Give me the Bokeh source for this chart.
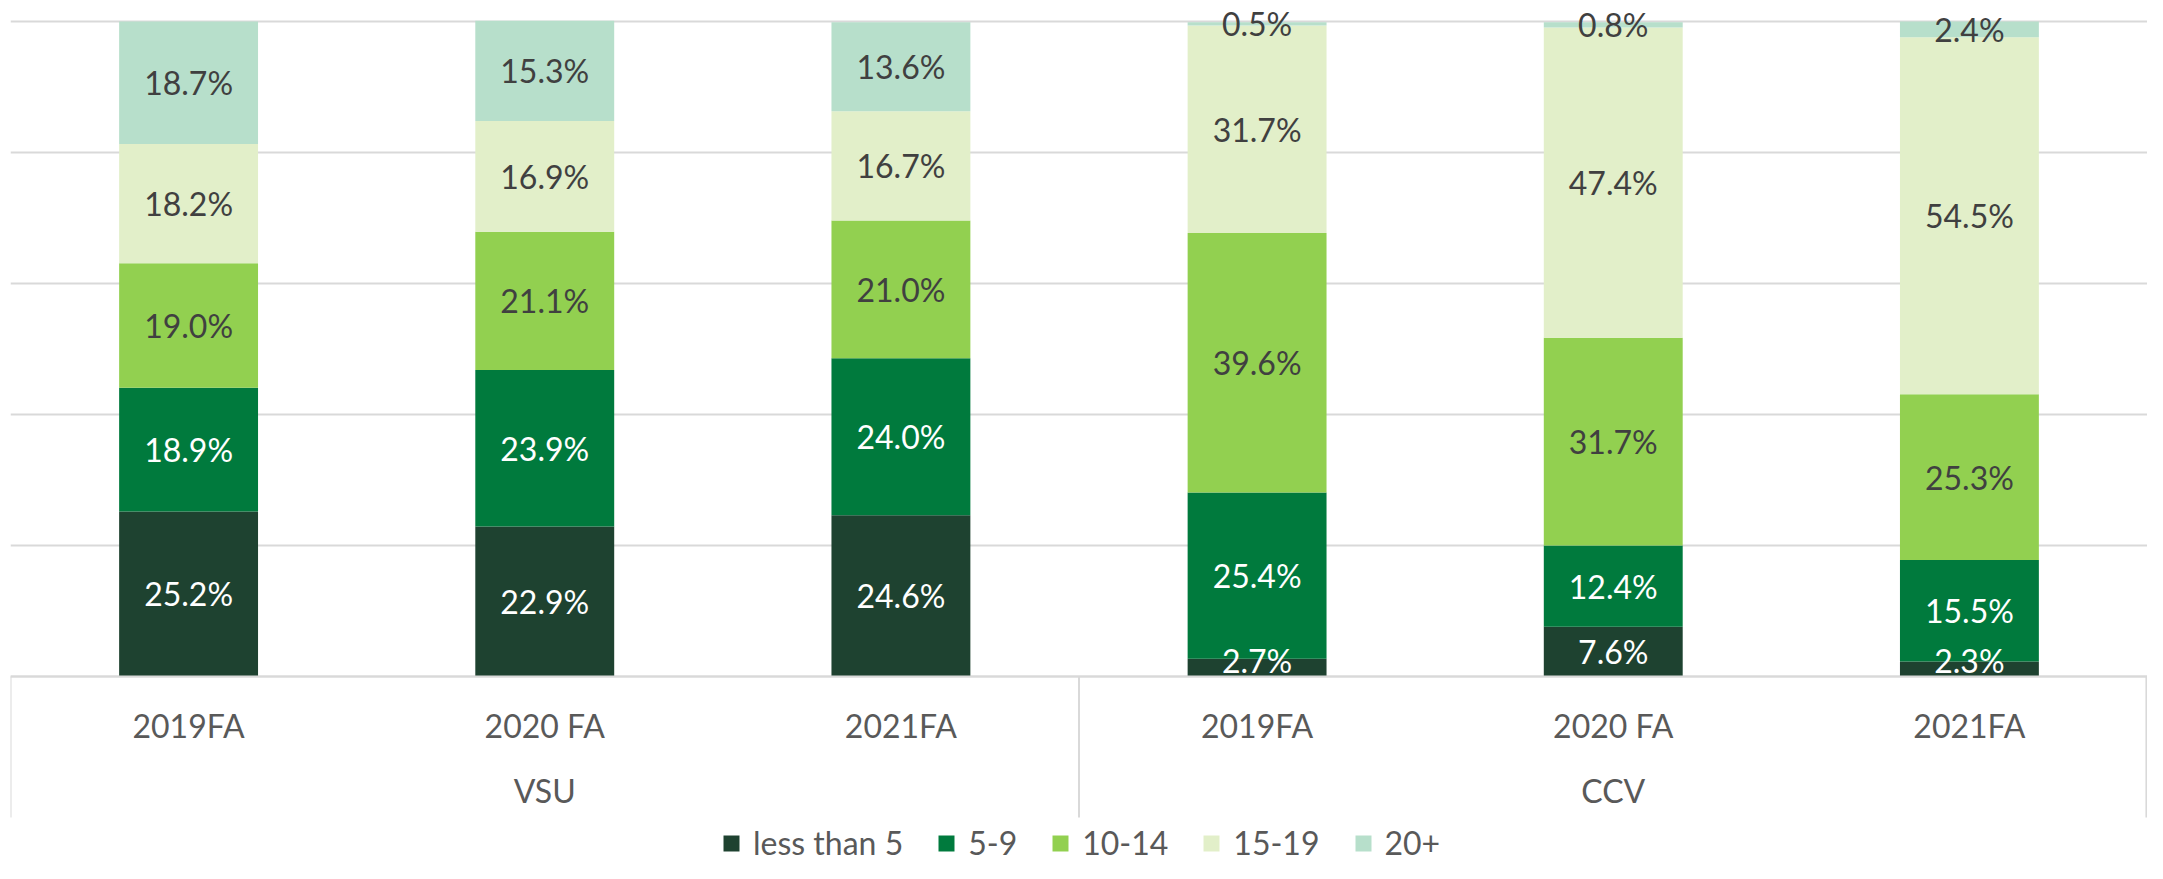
from bokeh.plotting import figure
from bokeh.models import ColumnDataSource, FactorRange, FixedTicker, Legend, LegendItem
from bokeh.embed import file_html
from bokeh.resources import INLINE
from bokeh.core.properties import value

# ---- data ----
groups = ["VSU", "VSU", "VSU", "CCV", "CCV", "CCV"]
periods = ["2019FA", "2020 FA", "2021FA", "2019FA", "2020 FA", "2021FA"]
series = ["less than 5", "5-9", "10-14", "15-19", "20+"]
less_than_5 = [25.2, 22.9, 24.6, 2.7, 7.6, 2.3]
v5_9 = [18.9, 23.9, 24.0, 25.4, 12.4, 15.5]
v10_14 = [19.0, 21.1, 21.0, 39.6, 31.7, 25.3]
v15_19 = [18.2, 16.9, 16.7, 31.7, 47.4, 54.5]
v20_plus = [18.7, 15.3, 13.6, 0.5, 0.8, 2.4]

colors = ["#1E4230", "#007A3D", "#92D050", "#E2EFC9", "#B7DFCB"]
label_colors = ["#FFFFFF", "#FFFFFF", "#404040", "#404040", "#404040"]
FONT = "Lato"
GRID = "#D9D9D9"

factors = list(zip(groups, periods))
values = [less_than_5, v5_9, v10_14, v15_19, v20_plus]

# layout: 655 px for 0..100 %, 21 px head-room above, rest below the baseline
W, H = 2147, 863
PX = 6.55
TOP_PAD = 21
y_end = 100 + TOP_PAD / PX
y_start = -(H - TOP_PAD - 655) / PX
box_bottom = -141 / PX
min_label_y = 16 / PX  # keep bottom labels inside the plot area

p = figure(width=W, height=H, output_backend="svg", toolbar_location=None,
           x_range=FactorRange(factors=factors, group_padding=0, factor_padding=0, range_padding=0),
           y_range=(y_start, y_end))
p.min_border_left = 10
p.min_border_right = 0
p.min_border_top = 0
p.min_border_bottom = 0
p.outline_line_color = None
p.background_fill_color = "white"
p.border_fill_color = "white"

# bars first
bottoms = [0.0] * len(factors)
items = []
label_sources = []
for name, vals, col, lcol in zip(series, values, colors, label_colors):
    tops = [b + v for b, v in zip(bottoms, vals)]
    src = ColumnDataSource(dict(x=factors, bottom=bottoms, top=tops,
                                mid=[max((b + t) / 2, min_label_y) for b, t in zip(bottoms, tops)],
                                label=[f"{v:.1f}%" for v in vals]))
    r = p.vbar(x="x", bottom="bottom", top="top", width=0.39, source=src,
               fill_color=col, line_color=None)
    items.append(LegendItem(label=name, renderers=[r]))
    label_sources.append((src, lcol))
    bottoms = tops

# data labels on top of all bars
for src, lcol in label_sources:
    p.text(x="x", y="mid", text="label", source=src, text_align="center",
           text_baseline="middle", text_color=lcol, text_font=value(FONT),
           text_font_size="32px")

# category box lines (left edge, group separator, right edge)
sep_x = [factors[0] + (-0.5,), factors[2] + (0.5,), factors[-1] + (0.497,)]
p.segment(x0=sep_x, x1=sep_x, y0=[0] * 3, y1=[box_bottom] * 3,
          line_color=GRID, line_width=2)

# axes / grid
p.yaxis.visible = False
p.ygrid.ticker = FixedTicker(ticks=[0, 20, 40, 60, 80, 100])
p.ygrid.grid_line_color = GRID
p.ygrid.grid_line_width = 2
p.xgrid.visible = False

xa = p.xaxis[0]
xa.fixed_location = 0
xa.axis_line_color = GRID
xa.axis_line_width = 2
xa.major_tick_line_color = None
xa.minor_tick_line_color = None
xa.major_label_standoff = 23
xa.major_label_text_font = FONT
xa.major_label_text_font_size = "32px"
xa.major_label_text_color = "#595959"
xa.group_text_font = FONT
xa.group_text_font_size = "32px"
xa.group_text_color = "#595959"
xa.group_text_font_style = "normal"
xa.separator_line_color = None

legend = Legend(items=items, orientation="horizontal", location=(711, 1),
                glyph_width=20, glyph_height=20, label_standoff=12, spacing=33,
                label_text_font=FONT, label_text_font_size="32px", label_text_color="#595959",
                label_text_line_height=1.0,
                border_line_color=None, background_fill_alpha=0, margin=0, padding=0)
p.add_layout(legend)

open("out.html", "w").write(file_html(p, INLINE))
